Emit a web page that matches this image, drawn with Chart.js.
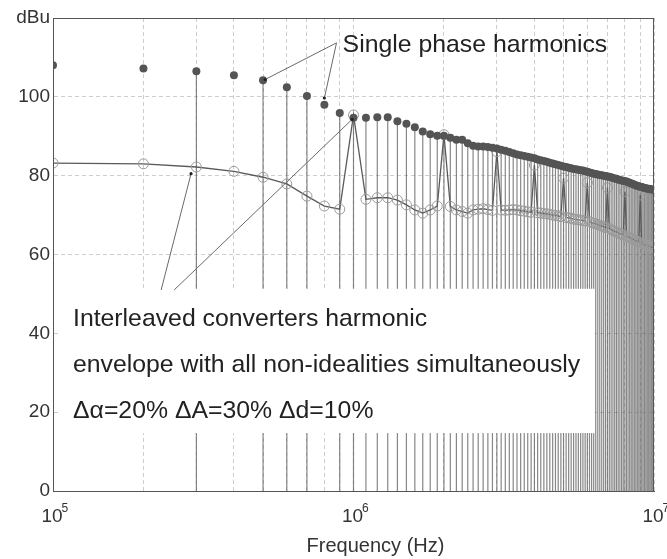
<!DOCTYPE html>
<html>
<head>
<meta charset="utf-8">
<script src="https://cdn.jsdelivr.net/npm/chart.js@4"></script>
<style>
  html, body { margin: 0; padding: 0; background: #fff; }
</style>
</head>
<body>
<canvas id="grafico" width="667" height="559"></canvas>
<script>
// --- DATOS ---
const fundamentalHz = 1e5;
const harmonicOrders = [
  1, 2, 3, 4, 5, 6, 7, 8, 9, 10, 11, 12, 13, 14, 15, 16, 17, 18, 19, 20,
  21, 22, 23, 24, 25, 26, 27, 28, 29, 30, 31, 32, 33, 34, 35, 36, 37, 38, 39, 40,
  41, 42, 43, 44, 45, 46, 47, 48, 49, 50, 51, 52, 53, 54, 55, 56, 57, 58, 59, 60,
  61, 62, 63, 64, 65, 66, 67, 68, 69, 70, 71, 72, 73, 74, 75, 76, 77, 78, 79, 80,
  81, 82, 83, 84, 85, 86, 87, 88, 89, 90, 91, 92, 93, 94, 95, 96, 97, 98, 99, 100
];

// single phase harmonics (dBu)
const singlePhase = [
  108.0, 107.2, 106.5, 105.5, 104.2, 102.4, 100.2, 98.0, 95.9, 94.7,
  94.7, 94.8, 94.8, 93.8, 93.2, 92.3, 91.2, 90.5, 90.1, 90.1,
  89.6, 89.1, 89.1, 88.2, 87.6, 87.4, 87.4, 87.3, 87.1, 86.9,
  86.6, 86.3, 86.0, 85.7, 85.4, 85.2, 85.0, 84.8, 84.6, 84.4,
  84.1, 83.9, 83.7, 83.5, 83.3, 83.1, 82.9, 82.7, 82.5, 82.3,
  82.2, 82.0, 81.9, 81.7, 81.6, 81.5, 81.4, 81.3, 81.1, 81.0,
  80.8, 80.7, 80.5, 80.4, 80.3, 80.2, 80.1, 80.0, 79.9, 79.8,
  79.7, 79.6, 79.4, 79.3, 79.2, 79.0, 78.9, 78.8, 78.7, 78.6,
  78.5, 78.3, 78.2, 78.0, 77.9, 77.7, 77.6, 77.4, 77.3, 77.2,
  77.1, 77.0, 76.9, 76.8, 76.7, 76.7, 76.6, 76.5, 76.5, 76.4
];

// interleaved converters envelope (dBu)
const interleaved = [
  83.2, 83.0, 82.2, 81.1, 79.6, 77.9, 74.8, 72.3, 71.5, 95.4,
  74.0, 74.4, 74.4, 73.8, 72.6, 71.3, 70.5, 71.3, 72.3, 90.4,
  72.2, 71.3, 70.9, 70.5, 71.3, 71.5, 71.6, 71.4, 71.2, 86.1,
  71.3, 71.2, 71.3, 71.4, 71.3, 71.1, 71.0, 70.8, 70.7, 82.7,
  70.6, 70.5, 70.4, 70.3, 70.2, 70.0, 69.9, 69.8, 69.6, 79.4,
  69.4, 69.3, 69.2, 69.0, 68.9, 68.8, 68.7, 68.6, 68.5, 78.2,
  68.3, 68.1, 67.9, 67.8, 67.6, 67.4, 67.2, 67.0, 66.8, 76.9,
  66.6, 66.3, 66.1, 65.9, 65.7, 65.5, 65.3, 65.1, 64.9, 76.0,
  64.7, 64.5, 64.3, 64.1, 63.9, 63.7, 63.5, 63.3, 63.1, 75.1,
  62.9, 62.7, 62.5, 62.4, 62.2, 62.1, 62.0, 61.9, 61.8, 61.7
];

// orders drawn without a stem
const noStemOrders = [2, 4, 8];

// axes
const yTicks = [0, 20, 40, 60, 80, 100, 120];
const xGridHz = [
  1e5, 2e5, 3e5, 4e5, 5e5, 6e5, 7e5, 8e5, 9e5,
  1e6, 2e6, 3e6, 4e6, 5e6, 6e6, 7e6, 8e6, 9e6, 1e7
];
const xDecades = [1e5, 1e6, 1e7];
const xExponents = ['5', '6', '7'];

// --- PUNTOS ---
const toPoints = vals => vals.map((v, i) => ({ x: harmonicOrders[i] * fundamentalHz, y: v }));

const stemPoints = [];
harmonicOrders.forEach((n, i) => {
  if (noStemOrders.includes(n)) return;
  const f = n * fundamentalHz;
  stemPoints.push({ x: f, y: 0 }, { x: f, y: singlePhase[i] }, { x: f, y: null });
});

const FONT = '"Liberation Sans", Arial, sans-serif';

// annotations (frequency, dBu)
const spLabel = { x: 9.2e5, y: 111.4, text: 'Single phase harmonics' };
const spArrows = [
  [[8.78e5, 113.7], [5.08e5, 104.4]],
  [[8.78e5, 113.7], [8.0e5, 99.7]]
];
const ilArrows = [
  [[2.29e5, 51.0], [2.88e5, 80.5]],
  [[2.53e5, 51.0], [9.9e5, 94.3]]
];
const box = { x0: 1.047e5, x1: 6.36e6, yTop: 51.3, yBottom: 14.7 };
const boxLines = [
  'Interleaved converters harmonic',
  'envelope with all non-idealities simultaneously',
  '\u0394\u03b1=20% \u0394A=30% \u0394d=10%'
];

const decor = {
  id: 'decor',
  afterDraw(chart) {
    const { ctx, chartArea: a, scales: { x, y } } = chart;
    const px = f => x.getPixelForValue(f);
    const py = v => y.getPixelForValue(v);
    ctx.save();

    // white text box
    const bl = px(box.x0), br = px(box.x1), bt = py(box.yTop), bb = py(box.yBottom);
    ctx.fillStyle = '#fff';
    ctx.fillRect(bl, bt, br - bl, bb - bt);

    // arrows
    ctx.strokeStyle = '#6a6a6a';
    ctx.lineWidth = 1;
    ctx.fillStyle = '#222';
    [...spArrows, ...ilArrows].forEach(([p0, p1]) => {
      ctx.beginPath();
      ctx.moveTo(px(p0[0]), py(p0[1]));
      ctx.lineTo(px(p1[0]), py(p1[1]));
      ctx.stroke();
      ctx.beginPath();
      ctx.arc(px(p1[0]), py(p1[1]), 1.6, 0, Math.PI * 2);
      ctx.fill();
    });

    // texts
    ctx.fillStyle = '#222';
    ctx.font = '24.8px ' + FONT;
    ctx.textAlign = 'left';
    ctx.textBaseline = 'alphabetic';
    ctx.fillText(spLabel.text, px(spLabel.x), py(spLabel.y));
    boxLines.forEach((t, i) => ctx.fillText(t, bl + 14, bt + 37.5 + i * 45.7));

    // frame
    ctx.strokeStyle = '#555';
    ctx.lineWidth = 1;
    ctx.strokeRect(a.left + 0.5, a.top + 0.5, a.right - a.left - 1, a.bottom - a.top);

    // x decade labels
    ctx.fillStyle = '#333';
    xDecades.forEach((f, i) => {
      const cx = px(f);
      ctx.font = '19px ' + FONT;
      ctx.textAlign = 'center';
      ctx.fillText('10', cx - 1, a.bottom + 31);
      ctx.font = '12px ' + FONT;
      ctx.textAlign = 'left';
      ctx.fillText(xExponents[i], cx + 8.5, a.bottom + 21);
    });

    // x title
    ctx.font = '20px ' + FONT;
    ctx.textAlign = 'center';
    ctx.fillText('Frequency (Hz)', (a.left + a.right) / 2 + 22, a.bottom + 61);
    ctx.restore();
  }
};

new Chart(document.getElementById('grafico'), {
  type: 'line',
  data: {
    datasets: [
      {
        label: 'Single phase harmonics',
        data: toPoints(singlePhase),
        showLine: false,
        pointRadius: 4,
        pointBackgroundColor: '#545454',
        pointBorderWidth: 0,
        order: 0
      },
      {
        label: 'Interleaved envelope',
        data: toPoints(interleaved),
        borderColor: '#5a5a5a',
        borderWidth: 1.3,
        pointRadius: 5,
        pointBackgroundColor: 'rgba(0,0,0,0)',
        pointBorderColor: '#9a9a9a',
        pointBorderWidth: 1,
        tension: 0,
        order: 1
      },
      {
        label: 'stems',
        data: stemPoints,
        borderColor: 'rgba(95,95,95,0.75)',
        borderWidth: 1.2,
        pointRadius: 0,
        spanGaps: false,
        order: 2
      }
    ]
  },
  options: {
    responsive: false,
    animation: false,
    devicePixelRatio: 1,
    layout: { padding: { top: 18, right: 13, left: 0, bottom: 0 } },
    plugins: {
      legend: { display: false },
      tooltip: { enabled: false }
    },
    scales: {
      x: {
        type: 'logarithmic',
        min: 1e5,
        max: 1e7,
        afterBuildTicks: s => { s.ticks = xGridHz.map(v => ({ value: v })); },
        afterFit: s => { s.height = 68; },
        ticks: { display: false },
        grid: { color: '#cdcdcd', lineWidth: 1, drawTicks: false },
        border: { color: '#555', dash: [4, 3] }
      },
      y: {
        min: 0,
        max: 120,
        z: 1,
        afterBuildTicks: s => { s.ticks = yTicks.map(v => ({ value: v })); },
        afterFit: s => { s.width = 53; },
        ticks: {
          padding: 3,
          color: '#333',
          font: { family: FONT, size: 19 },
          callback: v => (v === 120 ? 'dBu' : v)
        },
        grid: { color: '#cdcdcd', lineWidth: 1, drawTicks: false },
        border: { color: '#555', dash: [4, 3] }
      }
    }
  },
  plugins: [decor]
});
</script>
</body>
</html>
